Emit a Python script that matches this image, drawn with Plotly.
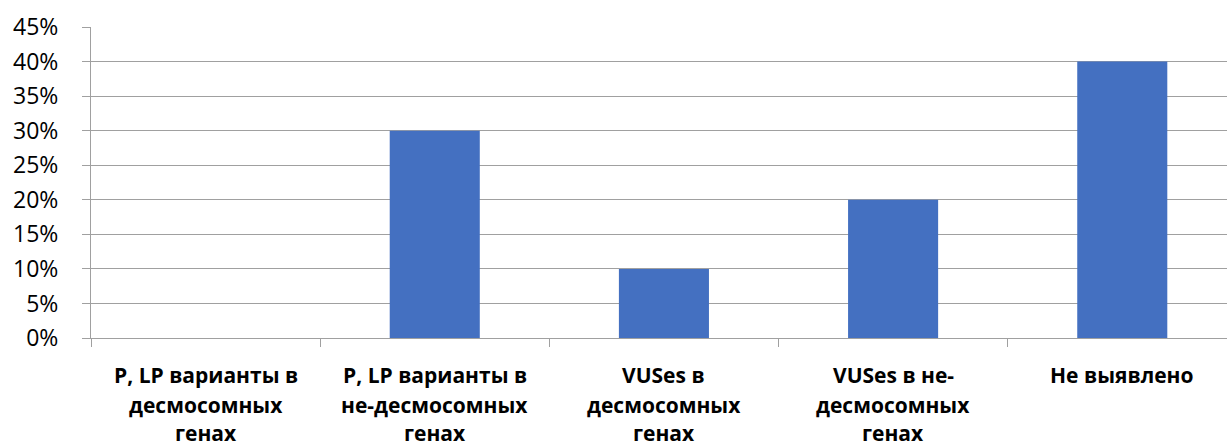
import plotly.graph_objects as go

categories = [
    "P, LP варианты в<br>десмосомных<br>генах",
    "P, LP варианты в<br>не-десмосомных<br>генах",
    "VUSes в<br>десмосомных<br>генах",
    "VUSes в не-<br>десмосомных<br>генах",
    "Не выявлено",
]
values = [0.0, 0.30, 0.10, 0.20, 0.40]
y_ticks = [0, 0.05, 0.10, 0.15, 0.20, 0.25, 0.30, 0.35, 0.40, 0.45]

fig = go.Figure(
    go.Bar(
        x=categories,
        y=values,
        marker=dict(color="#4470c1", line=dict(width=0)),
        width=0.393,
        hoverinfo="skip",
    )
)

annotations = []
line_offsets = [-37, -67, -95]
for cat in categories:
    for i, line in enumerate(cat.split("<br>")):
        annotations.append(
            dict(
                x=cat, xref="x", y=0, yref="paper",
                text=line, showarrow=False,
                yanchor="middle", xanchor="center",
                yshift=line_offsets[i],
                font=dict(family="Open Sans", size=21, color="#000000", weight="bold"),
            )
        )

fig.update_layout(
    width=1227, height=448,
    margin=dict(l=91, r=0, t=27, b=110),
    paper_bgcolor="white", plot_bgcolor="white",
    showlegend=False,
    annotations=annotations,
    xaxis=dict(
        type="category",
        range=[-0.5, 4.457],
        tickson="boundaries",
        ticks="outside", ticklen=8, tickcolor="#a0a0a0", tickwidth=1,
        showticklabels=False,
        showgrid=False,
        showline=True, linecolor="#a0a0a0", linewidth=1,
        zeroline=False,
    ),
    yaxis=dict(
        range=[0, 0.45],
        tickvals=y_ticks,
        tickformat=".0%",
        ticks="outside", ticklen=8, tickcolor="#a0a0a0", tickwidth=1,
        ticklabelstandoff=19,
        showgrid=True, gridcolor="#a0a0a0", gridwidth=1,
        showline=True, linecolor="#a0a0a0", linewidth=1,
        zeroline=False,
        tickfont=dict(family="Open Sans", size=23, color="#000000"),
    ),
)

fig.write_html("out.html")
